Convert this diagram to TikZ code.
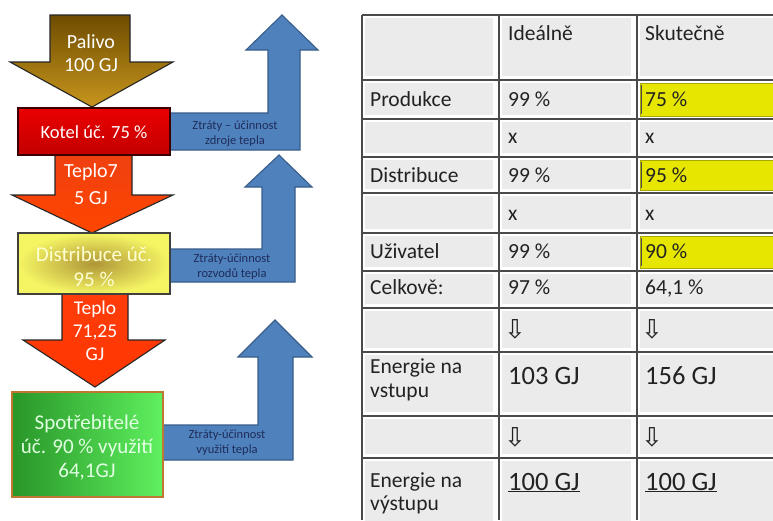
\documentclass[tikz,border=0pt]{standalone}
\usepackage{fontspec}
\setmainfont{Carlito}
\newfontfamily\symfont{DejaVu Sans}
\definecolor{bluefill}{HTML}{4F81BD}
\definecolor{blueedge}{HTML}{385D8A}
\definecolor{bluetext}{HTML}{1F2D5A}
\definecolor{cellgray}{HTML}{EBEBEB}
\definecolor{gridc}{HTML}{4A4A4A}
\definecolor{tabtext}{HTML}{222222}
\definecolor{hiyellow}{HTML}{E6E600}
\definecolor{hiedge}{HTML}{A8A800}
\begin{document}
\begin{tikzpicture}[x=1pt,y=-1pt,
  flowedge/.style={draw=black!85,line width=1.1pt,line join=miter},
  lossarrow/.style={fill=bluefill,draw=blueedge,line width=1.1pt},
  losslabel/.style={text=bluetext,align=center,inner sep=0pt,font=\fontsize{12.5}{15}\selectfont},
  flowtext/.style={text=white,align=center,inner sep=0pt},
  tcell/.style={anchor=base west,inner sep=0pt,text=tabtext,font=\fontsize{21.5}{24}\selectfont},
  tbig/.style={anchor=base west,inner sep=0pt,text=tabtext,font=\fontsize{26.5}{30}\selectfont},
  tarrow/.style={anchor=center,inner sep=0pt,text=tabtext,font=\symfont\fontsize{26}{28}\selectfont},
]
\useasboundingbox (0,0) rectangle (773,520);
\fill[white] (0,0) rectangle (773,520);

% ---------- blue loss arrows ----------
\path[lossarrow] (170,113) -- (268,113) -- (268,50) -- (246,50) -- (282,15) -- (318,50) -- (300,50) -- (300,150) -- (170,150) -- cycle;
\path[lossarrow] (170,249) -- (262,249) -- (262,187) -- (245,187) -- (279,155) -- (312,187) -- (295,187) -- (295,282) -- (170,282) -- cycle;
\path[lossarrow] (163,425) -- (258,425) -- (258,357) -- (238,357) -- (275,320) -- (312,357) -- (293,357) -- (293,460) -- (163,460) -- cycle;
\node[losslabel] (l1) at (235,134) {Ztráty – účinnost\\zdroje tepla};
\node[losslabel] (l2) at (232,267) {Ztráty-účinnost\\rozvodů tepla};
\node[losslabel] (l3) at (227,443) {Ztráty-účinnost\\využití tepla};

% ---------- flow arrows ----------
\shadedraw[flowedge,top color={rgb,255:red,110;green,76;blue,0},bottom color={rgb,255:red,200;green,150;blue,30}]
  (50,15) -- (130,15) -- (130,62) -- (173,62) -- (92,107) -- (10,62) -- (50,62) -- cycle;
\shadedraw[flowedge,top color={rgb,255:red,240;green,64;blue,16},bottom color={rgb,255:red,255;green,70;blue,0}]
  (55,155) -- (132,155) -- (132,195) -- (173,195) -- (92,233) -- (12,195) -- (55,195) -- cycle;
\shadedraw[flowedge,top color={rgb,255:red,255;green,60;blue,10},bottom color={rgb,255:red,255;green,55;blue,0}]
  (62,294) -- (128,294) -- (128,340) -- (165,340) -- (95,387) -- (23,340) -- (62,340) -- cycle;

% ---------- boxes ----------
\shadedraw[draw={rgb,255:red,60;green,0;blue,0},line width=1.4pt,top color={rgb,255:red,235;green,0;blue,0},bottom color={rgb,255:red,195;green,0;blue,0}]
  (18,108) rectangle (170,155);
\shadedraw[draw=black!75,line width=1.2pt,inner color={rgb,255:red,175;green,150;blue,55},outer color={rgb,255:red,245;green,245;blue,100}]
  (18,233) rectangle (170,294);
\shadedraw[draw={rgb,255:red,190;green,120;blue,50},line width=1.6pt,left color={rgb,255:red,40;green,150;blue,40},right color={rgb,255:red,95;green,240;blue,95}]
  (12,392) rectangle (163,497);

\node[flowtext,font=\fontsize{20}{23}\selectfont] (palivo) at (91,53) {Palivo\\100 GJ};
\node[flowtext,font=\fontsize{18.5}{22}\selectfont] (kotel) at (94,132) {Kotel úč. 75 \%};
\node[flowtext,font=\fontsize{20}{27}\selectfont] (teplo1) at (91,184) {Teplo7\\5 GJ};
\node[flowtext,text={rgb,255:red,255;green,255;blue,210},font=\fontsize{21}{25}\selectfont] (distr) at (94,267) {Distribuce úč.\\95 \%};
\node[flowtext,font=\fontsize{19.5}{23}\selectfont] (teplo2) at (95,331) {Teplo\\71,25\\GJ};
\node[flowtext,text={rgb,255:red,225;green,255;blue,225},font=\fontsize{21}{24}\selectfont] (spotr) at (87,448) {Spotřebitelé\\úč. 90 \% využití\\64,1GJ};

% ---------- table ----------
\foreach \ya/\yb in {15/80,80/119,119/157,157/193,193/233,233/271,271/308,308/352,352/416,416/458,458/525}{
  \fill[cellgray] (365,\ya+3) rectangle (493,\yb-4);
  \fill[cellgray] (502,\ya+3) rectangle (631,\yb-4);
  \fill[cellgray] (640,\ya+3) rectangle (773,\yb-4);
}
\foreach \ya/\yb in {80/119,157/193,233/271}{
  \path[fill=hiyellow,draw=hiedge,line width=1pt] (640,\ya+3) rectangle (775,\yb-3);
  \draw[black!70,line width=1.2pt] (641.5,\ya+5) -- (641.5,\yb-5);
}
\foreach \y in {15,80,119,157,193,233,271,308,352,416,458}{
  \draw[gridc,line width=1.3pt] (362,\y) -- (773,\y);
}
\foreach \x in {362,499,637}{
  \draw[gridc,line width=1.3pt] (\x,15) -- (\x,520);
}

\node[tcell] (h2) at (508,40) {Ideálně};
\node[tcell] (h3) at (645,40) {Skutečně};
\node[tcell] (r1) at (370,106) {Produkce};
\node[tcell] (r1a) at (508,106) {99 \%};
\node[tcell] (r1b) at (645,106) {75 \%};
\node[tcell] (r2a) at (508,143) {x};
\node[tcell] (r2b) at (645,143) {x};
\node[tcell] (r3) at (370,182) {Distribuce};
\node[tcell] (r3a) at (508,182) {99 \%};
\node[tcell] (r3b) at (645,182) {95 \%};
\node[tcell] (r4a) at (508,220) {x};
\node[tcell] (r4b) at (645,220) {x};
\node[tcell] (r5) at (370,258) {Uživatel};
\node[tcell] (r5a) at (508,258) {99 \%};
\node[tcell] (r5b) at (645,258) {90 \%};
\node[tcell] (r6) at (370,294) {Celkově:};
\node[tcell] (r6a) at (508,294) {97 \%};
\node[tcell] (r6b) at (645,294) {64,1 \%};
\node[tarrow] (ar1) at (515,329) {⇩};
\node[tarrow] (ar2) at (652,329) {⇩};
\node[tcell] (r8l1) at (370,373) {Energie na};
\node[tcell] (r8l2) at (370,397) {vstupu};
\node[tbig] (r8a) at (508,384) {103 GJ};
\node[tbig] (r8b) at (645,384) {156 GJ};
\node[tarrow] (ar3) at (515,437) {⇩};
\node[tarrow] (ar4) at (652,437) {⇩};
\node[tcell] (r10l1) at (370,487) {Energie na};
\node[tcell] (r10l2) at (370,510) {výstupu};
\node[tbig] (r10a) at (508,490) {\underline{100 GJ}};
\node[tbig] (r10b) at (645,490) {\underline{100 GJ}};
\end{tikzpicture}
\end{document}
